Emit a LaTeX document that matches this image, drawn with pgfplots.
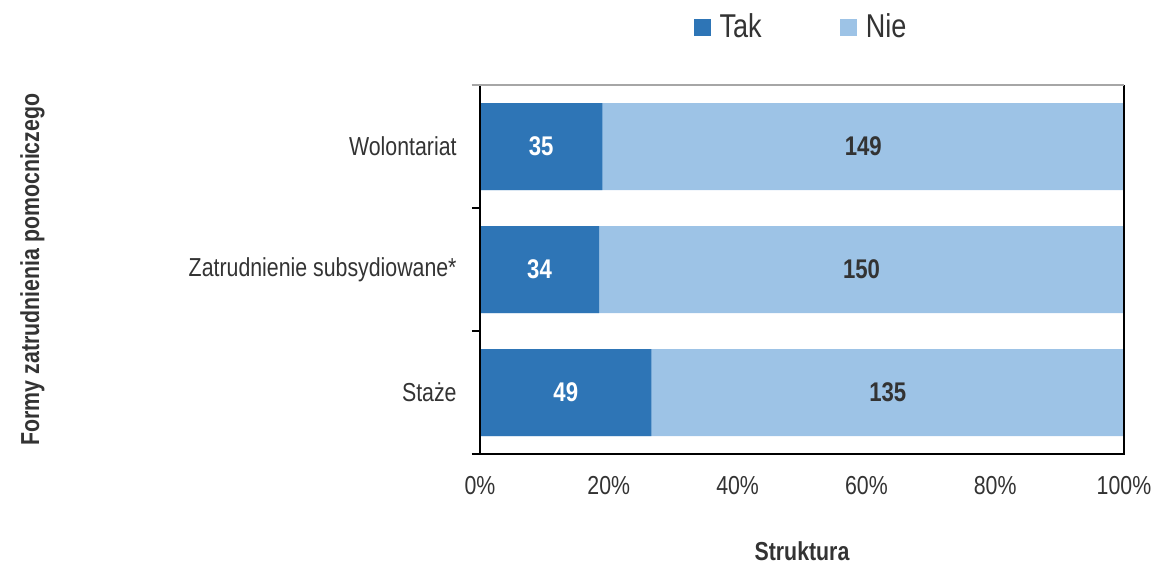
\documentclass[border=0pt]{standalone}
\usepackage{fontspec}
\setmainfont{Liberation Sans}[FakeStretch=0.82]
\usepackage{pgfplots}
\pgfplotsset{compat=1.18}
\definecolor{tak}{RGB}{46,117,182}
\definecolor{nie}{RGB}{157,195,230}
\definecolor{txt}{RGB}{51,51,51}
\begin{document}
\begin{tikzpicture}
\useasboundingbox (-240pt,-54.5pt) rectangle (337pt,227pt);
\begin{axis}[
  at={(0,0)}, anchor=south west,
  scale only axis, width=322pt, height=184.5pt,
  xmin=0, xmax=100, ymin=-0.5, ymax=2.5,
  axis line style={draw=none},
  xtick={0,20,40,60,80,100},
  xticklabels={0\%,20\%,40\%,60\%,80\%,100\%},
  xtick style={draw=none},
  ytick={0,1,2},
  yticklabels={Staże,Zatrudnienie subsydiowane*,Wolontariat},
  minor ytick={-0.5,0.5,1.5,2.5},
  ytick pos=left,
  major tick length=0pt, minor tick length=4pt,
  tick align=outside,
  minor tick style={black, line width=0.7pt},
  xticklabel shift=11pt, yticklabel shift=11.5pt,
  ticklabel style={inner sep=0pt, text=txt, font=\fontsize{13}{15}\selectfont},
  xlabel={Struktura}, ylabel={Formy zatrudnienia pomocniczego},
  label style={text=txt, font=\fontsize{13}{15}\selectfont\bfseries},
  xlabel style={at={(axis description cs:0.5,-0.263)}, anchor=center},
  ylabel style={at={(axis description cs:-0.695,0.5)}, anchor=center},
  legend style={at={(axis description cs:0.5,1.157)}, anchor=center, draw=none,
    legend columns=2, text=txt, font=\fontsize{16.5}{19}\selectfont,
    /tikz/every even column/.append style={column sep=37pt},
    /tikz/every odd column/.append style={column sep=2.5pt},
    inner sep=0pt},
  legend image code/.code={\fill[#1, draw=none] (0pt,-4.25pt) rectangle (8.5pt,4.25pt);},
  clip=false,
]
\addlegendimage{fill=tak}\addlegendentry{Tak}
\addlegendimage{fill=nie}\addlegendentry{Nie}

% Nie: full bar (100%)
\addplot[xbar, bar shift=0pt, bar width=43.5pt, fill=nie, draw=none, forget plot]
  coordinates {(100,0) (100,1) (100,2)};
% Tak share of 184
\addplot[xbar, bar shift=0pt, bar width=43.5pt, fill=tak, draw=none, forget plot]
  coordinates {(26.63,0) (18.48,1) (19.02,2)};

% labels
\addplot[draw=none, mark=none, forget plot, nodes near coords, point meta=explicit symbolic,
  every node near coord/.append style={anchor=center, text=white,
    font=\fontsize{13.5}{15}\selectfont\bfseries}]
  coordinates {(13.32,0)[49] (9.24,1)[34] (9.51,2)[35]};
\addplot[draw=none, mark=none, forget plot, nodes near coords, point meta=explicit symbolic,
  every node near coord/.append style={anchor=center, text=txt,
    font=\fontsize{13.5}{15}\selectfont\bfseries}]
  coordinates {(63.32,0)[135] (59.24,1)[150] (59.51,2)[149]};

\draw[black, line width=0.8pt] (rel axis cs:0,1) -- (rel axis cs:0,0) -- (rel axis cs:1,0) -- (rel axis cs:1,1);
\draw[gray!70, line width=0.8pt] ([xshift=-4pt]rel axis cs:0,1) -- (rel axis cs:1,1);
\draw[black, line width=0.8pt] ([xshift=-4pt]rel axis cs:0,0) -- (rel axis cs:0,0);
\end{axis}
\end{tikzpicture}
\end{document}
